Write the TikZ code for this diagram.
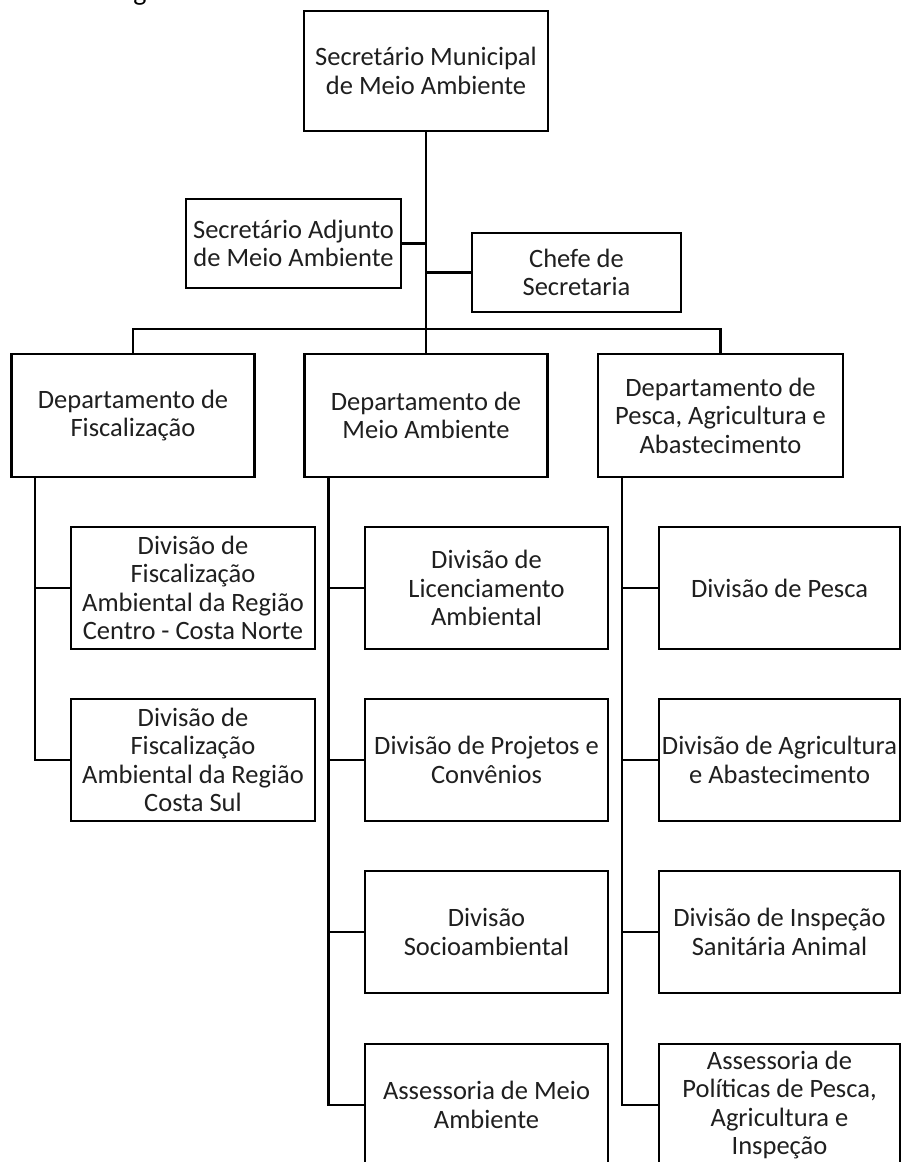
\documentclass[tikz,border=0pt]{standalone}
\usepackage{fontspec}
\setmainfont{Carlito}
\usetikzlibrary{calc}
\begin{document}
\begin{tikzpicture}[x=1pt,y=-1pt,
  line width=2.2pt,
  box/.style={draw=black, fill=white, align=center, inner sep=0pt,
    font=\fontsize{26.5}{28.5}\selectfont, text=black!88},
  head/.style={box, minimum width=244pt, minimum height=120pt},
  dept/.style={box, minimum width=243pt, minimum height=123pt},
  divbox/.style={box, minimum height=122pt},
  link/.style={draw=black, line width=2.2pt}]
\useasboundingbox (0,0) rectangle (902,1162);
\clip (0,0) rectangle (902,1162);
\fill[white] (0,0) rectangle (902,1162);

% fragment of the heading line above the chart
\node[anchor=base, inner sep=0pt, font=\fontsize{28}{30}\selectfont] (heading) at (140,0.5) {g};

% top level
\node[head] (sec) at (426,71) {Secretário Municipal\\de Meio Ambiente};
\node[box, minimum width=215pt, minimum height=89pt] (adj) at (293.5,243.5) {Secretário Adjunto\\de Meio Ambiente};
\node[box, minimum width=209pt, minimum height=79pt] (chefe) at (576.5,272.5) {Chefe de\\Secretaria};

% departments
\node[dept] (depF) at (133,415.5) {Departamento de\\Fiscalização};
\node[dept] (depM) at (426,415.5) {Departamento de\\Meio Ambiente};
\node[dept, minimum width=245pt] (depP) at (720.5,415.5) {Departamento de\\Pesca, Agricultura e\\Abastecimento};

% divisions, left column
\node[divbox, minimum width=244pt] (f1) at (193,588) {Divisão de\\Fiscalização\\Ambiental da Região\\Centro - Costa Norte};
\node[divbox, minimum width=244pt] (f2) at (193,760) {Divisão de\\Fiscalização\\Ambiental da Região\\Costa Sul};

% divisions, middle column
\node[divbox, minimum width=243pt] (m1) at (486.5,588) {Divisão de\\Licenciamento\\Ambiental};
\node[divbox, minimum width=243pt] (m2) at (486.5,760) {Divisão de Projetos e\\Convênios};
\node[divbox, minimum width=243pt] (m3) at (486.5,932) {Divisão\\Socioambiental};
\node[divbox, minimum width=243pt] (m4) at (486.5,1105) {Assessoria de Meio\\Ambiente};

% divisions, right column
\node[divbox, minimum width=241pt] (p1) at (779.5,588) {Divisão de Pesca};
\node[divbox, minimum width=241pt] (p2) at (779.5,760) {Divisão de Agricultura\\e Abastecimento};
\node[divbox, minimum width=241pt] (p3) at (779.5,932) {Divisão de Inspeção\\Sanitária Animal};
\node[divbox, minimum width=241pt] (p4) at (779.5,1105) {Assessoria de\\Políticas de Pesca,\\Agricultura e\\Inspeção};

% trunk and staff links
\draw[link] (sec.south) -- (depM.north);
\draw[link] (adj.east) -- (adj.east -| sec.south);
\draw[link] (chefe.west) -- (chefe.west -| sec.south);

% department bus
\coordinate (bus) at (426,329);
\draw[link] (depF.north) |- (bus) -| (depP.north);

% spines under each department
\coordinate (sF) at ([xshift=24.5pt]depF.south west);
\coordinate (sM) at ([xshift=25pt]depM.south west);
\coordinate (sP) at ([xshift=25pt]depP.south west);

\draw[link] (sF) |- (f2.west);
\draw[link] (f1.west) -- (f1.west -| sF);

\draw[link] (sM) |- (m4.west);
\draw[link] (m1.west) -- (m1.west -| sM);
\draw[link] (m2.west) -- (m2.west -| sM);
\draw[link] (m3.west) -- (m3.west -| sM);

\draw[link] (sP) |- (p4.west);
\draw[link] (p1.west) -- (p1.west -| sP);
\draw[link] (p2.west) -- (p2.west -| sP);
\draw[link] (p3.west) -- (p3.west -| sP);
\end{tikzpicture}
\end{document}
